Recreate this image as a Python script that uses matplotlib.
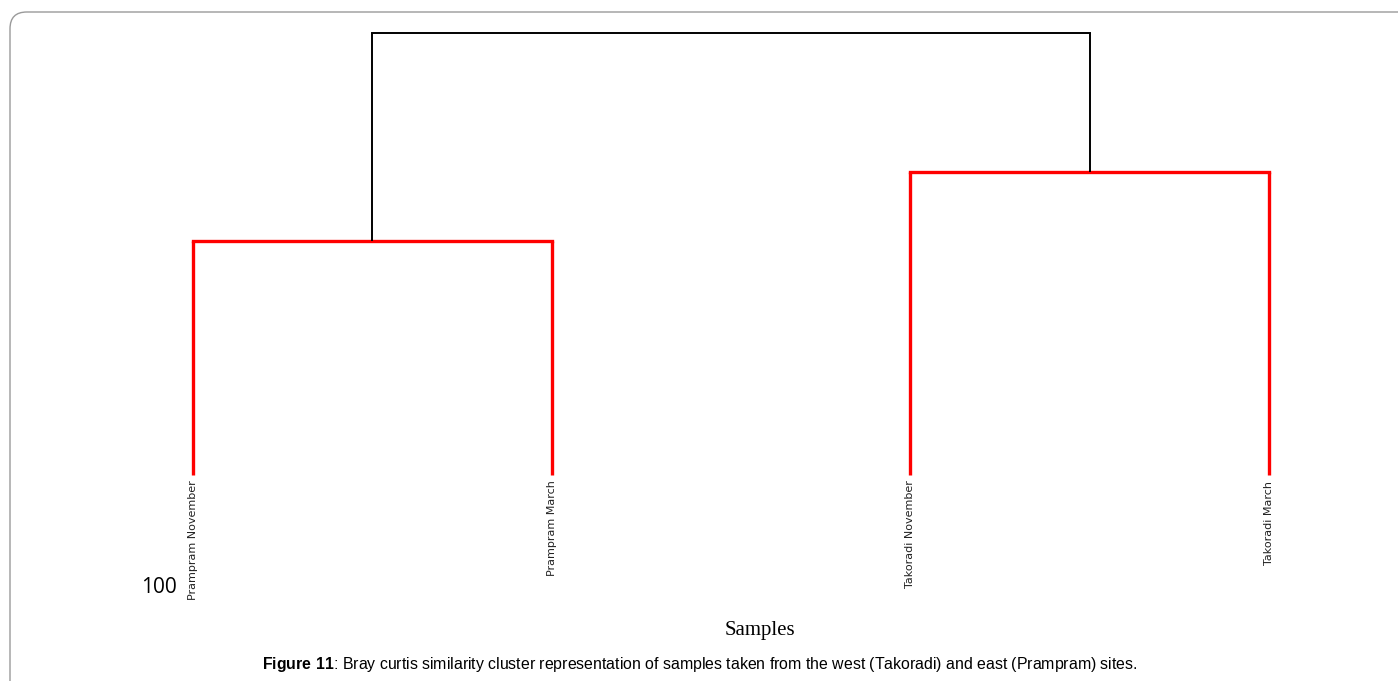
import matplotlib.pyplot as plt
import matplotlib.transforms as mtransforms
from matplotlib.patches import FancyBboxPatch

samples = ["Prampram November", "Prampram March", "Takoradi November", "Takoradi March"]
leaf_similarity = 92.0
group_similarity = [75.1, 70.1]  # Prampram pair, Takoradi pair
overall_similarity = 60.0

plt.rcParams.update({
    "mathtext.fontset": "custom",
    "mathtext.bf": "Liberation Sans:bold",
    "mathtext.rm": "Liberation Sans",
})

W, H = 1398, 681
fig = plt.figure(figsize=(W / 100, H / 100), dpi=100)
fig.patch.set_facecolor("white")


def px(x0, y0, x1, y1):
    # pixel box (top-left origin) -> figure fraction rect
    return [x0 / W, 1 - y1 / H, (x1 - x0) / W, (y1 - y0) / H]


# rounded frame round the figure panel
frame = FancyBboxPatch((10 / W, -0.1), 1.2, 1 - 12 / H + 0.1,
                       boxstyle="round,pad=0,rounding_size=0.012",
                       transform=fig.transFigure, fill=False,
                       edgecolor="#9a9a9a", linewidth=1.0,
                       mutation_aspect=W / H)
fig.patches.append(frame)

ax = fig.add_axes(px(193, 33, 1269, 585))
ax.set_xlim(0, len(samples) - 1)
ax.set_ylim(100, overall_similarity)
for s in ax.spines.values():
    s.set_visible(False)

red = "#ff0000"
mids = []
for g, sim in enumerate(group_similarity):
    a, b = 2 * g, 2 * g + 1
    for i in (a, b):
        ax.plot([i, i], [leaf_similarity, sim], color=red, lw=2.4,
                solid_capstyle="butt", clip_on=False)
    ax.plot([a, b], [sim, sim], color=red, lw=2.4, clip_on=False)
    mid = (a + b) / 2
    mids.append(mid)
    ax.plot([mid, mid], [sim, overall_similarity], color="black", lw=1.4,
            solid_capstyle="butt", clip_on=False)
ax.plot(mids, [overall_similarity] * 2, color="black", lw=1.4, clip_on=False)

# sample labels, a few pixels below the line ends
shift = mtransforms.ScaledTranslation(0, -6 / 100, fig.dpi_scale_trans)
for i, name in enumerate(samples):
    ax.text(i, leaf_similarity, name, rotation=90, ha="center", va="top",
            fontsize=8.0, family="DejaVu Sans", color="#222222",
            transform=ax.transData + shift)

ax.set_xticks([])
ax.set_yticks([100])
ax.set_yticklabels(["100"], fontsize=15, family="Open Sans")
ax.tick_params(axis="y", length=0, pad=12)

fig.text(760 / W, 1 - 630 / H, "Samples", ha="center", va="center",
         fontsize=15, family="Liberation Serif")

fig.text(700 / W, 1 - 665 / H,
         r"$\mathbf{Figure\ 11}$: Bray curtis similarity cluster representation of samples taken from the west (Takoradi) and east (Prampram) sites.",
         ha="center", va="center", fontsize=11.45, family="Liberation Sans")

fig.savefig("out.png", dpi=100)
